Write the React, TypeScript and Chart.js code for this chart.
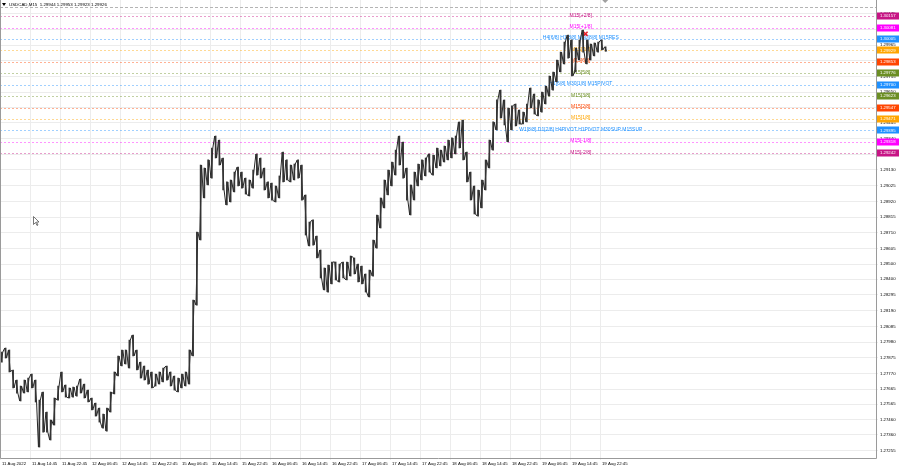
import React, { useEffect, useRef } from 'react';
import { Chart, registerables } from 'chart.js';
Chart.register(...registerables);

const symbolTitle = 'USDCAD,M15  1.29944 1.29953 1.29923 1.29926';

// time axis: bar index (M15 bars) of each label
const timeTickBars = [0, 32, 64, 96, 128, 160, 192, 224, 256, 288, 320, 352, 384, 416, 448, 480, 512, 544, 576, 608, 640];
const timeLabels = ['11 Aug 2022', '11 Aug 14:45', '11 Aug 22:45', '12 Aug 06:45', '12 Aug 14:45', '12 Aug 22:45', '15 Aug 06:45', '15 Aug 14:45', '15 Aug 22:45', '16 Aug 06:45', '16 Aug 14:45', '16 Aug 22:45', '17 Aug 06:45', '17 Aug 14:45', '17 Aug 22:45', '18 Aug 06:45', '18 Aug 14:45', '18 Aug 22:45', '19 Aug 06:45', '19 Aug 14:45', '19 Aug 22:45'];

const priceTicks = [1.27255, 1.2736, 1.2746, 1.27565, 1.27665, 1.2777, 1.27875, 1.2798, 1.28085, 1.2819, 1.28295, 1.284, 1.285, 1.28605, 1.2871, 1.28815, 1.2892, 1.29025, 1.2913, 1.29235, 1.2934, 1.29445, 1.2955, 1.2965, 1.29755, 1.2986, 1.29965, 1.3007, 1.30175];

// hourly (4 x M15) highs and lows
const hourHigh = [
  1.27913, 1.2794, 1.27927, 1.27793, 1.27726, 1.27686, 1.27726, 1.27739, 1.27766, 1.27726,
  1.27592, 1.27646, 1.27512, 1.27459, 1.27606, 1.27686, 1.2778, 1.27693, 1.27673, 1.27679,
  1.27686, 1.27733, 1.27699, 1.27659, 1.27606, 1.27572, 1.27539, 1.27499, 1.27539, 1.27646,
  1.2778, 1.27887, 1.27927, 1.27927, 1.27993, 1.28027, 1.27927, 1.27846, 1.2782, 1.27793,
  1.2778, 1.27766, 1.2778, 1.27806, 1.2782, 1.2778, 1.27753, 1.27739, 1.27766, 1.2778,
  1.27927, 1.28261, 1.28715, 1.29163, 1.29143, 1.29197, 1.29277, 1.29357, 1.2933, 1.2921,
  1.2905, 1.29063, 1.29116, 1.2915, 1.29116, 1.29076, 1.29063, 1.2913, 1.29237, 1.2921,
  1.29143, 1.2905, 1.29043, 1.29023, 1.2909, 1.2925, 1.29197, 1.29163, 1.2917, 1.29197,
  1.29163, 1.28963, 1.28782, 1.28796, 1.28689, 1.28595, 1.28475, 1.28495, 1.28515, 1.28515,
  1.28501, 1.28515, 1.28515, 1.28555, 1.28542, 1.28501, 1.28488, 1.28435, 1.28461, 1.28662,
  1.28829, 1.28943, 1.29063, 1.2913, 1.29183, 1.29263, 1.29357, 1.29317, 1.29143, 1.2903,
  1.29116, 1.2917, 1.29197, 1.2921, 1.29237, 1.2923, 1.29277, 1.29263, 1.2929, 1.2933,
  1.29344, 1.29357, 1.29451, 1.29464, 1.2925, 1.29116, 1.29023, 1.28996, 1.29063, 1.29197,
  1.2933, 1.29451, 1.29598, 1.29664, 1.29598, 1.29544, 1.29558, 1.29571, 1.29531, 1.29517,
  1.29571, 1.29678, 1.29638, 1.29598, 1.29651, 1.29691, 1.29758, 1.29785, 1.29865, 1.29918,
  1.29985, 1.30032, 1.29999, 1.29945, 1.29999, 1.30065, 1.29999, 1.29972, 1.29979, 1.29985,
  1.29999, 1.29953
];
const hourLow = [
  1.27846, 1.27873, 1.2778, 1.27673, 1.27639, 1.27586, 1.27639, 1.27646, 1.27673, 1.27579,
  1.27278, 1.27378, 1.27378, 1.27325, 1.27425, 1.27592, 1.27646, 1.27612, 1.27606, 1.27612,
  1.27619, 1.27639, 1.27606, 1.27579, 1.27526, 1.27485, 1.27445, 1.27405, 1.27385, 1.27512,
  1.27633, 1.27753, 1.2782, 1.27833, 1.27806, 1.27887, 1.27793, 1.27739, 1.27726, 1.27699,
  1.27673, 1.27686, 1.27699, 1.27713, 1.27726, 1.27686, 1.27659, 1.27646, 1.27673, 1.27686,
  1.27699, 1.27887, 1.28227, 1.28662, 1.28943, 1.2903, 1.29076, 1.2921, 1.29163, 1.28996,
  1.28896, 1.28916, 1.28983, 1.29023, 1.29009, 1.28969, 1.28956, 1.29009, 1.29096, 1.29076,
  1.28996, 1.28943, 1.28929, 1.28916, 1.28943, 1.2905, 1.29063, 1.2905, 1.29063, 1.29076,
  1.28929, 1.28695, 1.28622, 1.28628, 1.28542, 1.28408, 1.28328, 1.28314, 1.28368, 1.28395,
  1.28381, 1.28408, 1.28395, 1.28421, 1.28435, 1.28381, 1.28368, 1.28314, 1.28281, 1.28421,
  1.28608, 1.28742, 1.28876, 1.28963, 1.29023, 1.29096, 1.29163, 1.29076, 1.28929, 1.28829,
  1.28929, 1.29023, 1.29063, 1.2909, 1.29116, 1.29096, 1.29143, 1.29157, 1.29183, 1.29197,
  1.2921, 1.29237, 1.29277, 1.29197, 1.2905, 1.28929, 1.28836, 1.28822, 1.28876, 1.28996,
  1.29143, 1.29263, 1.29397, 1.29477, 1.29431, 1.29317, 1.29397, 1.29424, 1.29437, 1.29437,
  1.29451, 1.29544, 1.29504, 1.29491, 1.29517, 1.29571, 1.29624, 1.29664, 1.29718, 1.29785,
  1.29838, 1.29878, 1.29758, 1.29785, 1.29865, 1.29918, 1.29838, 1.29865, 1.29892, 1.29918,
  1.29932, 1.29923
];
const lastClose = 1.29926;

// Murrey levels
const levelPrices = [1.30157, 1.30081, 1.30005, 1.29929, 1.29853, 1.29776, 1.297, 1.29623, 1.29547, 1.29471, 1.29395, 1.29318, 1.29242];
const levelTexts = ['M15[+2/8]', 'M15[+1/8]', 'H4[6/8] H1[8/8] M30[8/8] M15RES', 'M15[7/8]', 'M15[6/8]', 'M15[5/8]', 'H1[6/8] M30[1/8] M15PIVOT', 'M15[3/8]', 'M15[2/8]', 'M15[1/8]', 'W1[8/8] D1[2/8] H4PIVOT H1PIVOT M30SUP M15SUP', 'M15[-1/8]', 'M15[-2/8]'];
const levelColors = ['#c71585', '#ff00ff', '#1e90ff', '#ffa500', '#ff4500', '#6b8e23', '#1e90ff', '#6b8e23', '#ff4500', '#ffa500', '#1e90ff', '#ff00ff', '#c71585'];
const levelLabelBar = 619;

// plain gray horizontal line near the top
const grayLinePrice = 1.3022;

const signalBar = 624;
const signalPrice = 1.3004;
const shiftMarkBar = 645;

// mouse pointer position (bar index, price)
const cursorBar = 35;
const cursorPrice = 1.28823;

const FONT = '"Liberation Sans", Arial, sans-serif';

function zeroPad(s: any) {
  s.paddingLeft = 0;
  s.paddingRight = 0;
  s.paddingTop = 0;
  s.paddingBottom = 0;
}

const overlayPlugin = {
  id: 'mtOverlay',
  beforeDatasetsDraw(chart: any) {
    const { ctx, chartArea, scales } = chart;
    const ys = scales.y;
    const xs = scales.x;
    ctx.save();
    ctx.lineWidth = 1;
    const gy = Math.round(ys.getPixelForValue(grayLinePrice)) + 0.5;
    ctx.strokeStyle = '#b4b4b4';
    ctx.setLineDash([3, 2]);
    ctx.beginPath();
    ctx.moveTo(chartArea.left, gy);
    ctx.lineTo(chartArea.right, gy);
    ctx.stroke();
    levelPrices.forEach((p, i) => {
      const py = Math.round(ys.getPixelForValue(p)) + 0.5;
      ctx.strokeStyle = levelColors[i];
      ctx.globalAlpha = 0.42;
      ctx.setLineDash([2, 2]);
      ctx.beginPath();
      ctx.moveTo(chartArea.left, py);
      ctx.lineTo(chartArea.right, py);
      ctx.stroke();
    });
    ctx.globalAlpha = 1;
    ctx.setLineDash([]);
    ctx.font = '5px ' + FONT;
    ctx.textAlign = 'center';
    ctx.textBaseline = 'middle';
    const lx = xs.getPixelForValue(levelLabelBar);
    levelPrices.forEach((p, i) => {
      const py = ys.getPixelForValue(p) - 1;
      ctx.fillStyle = levelColors[i];
      ctx.fillText(levelTexts[i], lx, py);
    });
    ctx.restore();
  },
  afterDraw(chart: any) {
    const { ctx, chartArea, scales } = chart;
    const ys = scales.y;
    const xs = scales.x;
    ctx.save();
    ctx.strokeStyle = '#9a9a9a';
    ctx.lineWidth = 1;
    ctx.beginPath();
    ctx.moveTo(chartArea.left + 0.5, chartArea.top);
    ctx.lineTo(chartArea.left + 0.5, chartArea.bottom + 0.5);
    ctx.lineTo(chartArea.right + 0.5, chartArea.bottom + 0.5);
    ctx.lineTo(chartArea.right + 0.5, chartArea.top);
    ctx.stroke();
    // chart shift marker
    const sx = xs.getPixelForValue(shiftMarkBar);
    ctx.fillStyle = '#a0a0a0';
    ctx.beginPath();
    ctx.moveTo(sx - 3, chartArea.top);
    ctx.lineTo(sx + 3, chartArea.top);
    ctx.lineTo(sx, chartArea.top + 3);
    ctx.closePath();
    ctx.fill();
    // mouse pointer
    const cx = Math.round(xs.getPixelForValue(cursorBar)) + 0.5;
    const cy = Math.round(ys.getPixelForValue(cursorPrice)) + 0.5;
    ctx.fillStyle = '#ffffff';
    ctx.strokeStyle = '#555';
    ctx.lineWidth = 0.8;
    ctx.beginPath();
    ctx.moveTo(cx, cy);
    ctx.lineTo(cx, cy + 8);
    ctx.lineTo(cx + 2, cy + 6);
    ctx.lineTo(cx + 3.5, cy + 9);
    ctx.lineTo(cx + 4.5, cy + 8.5);
    ctx.lineTo(cx + 3, cy + 5.5);
    ctx.lineTo(cx + 5.5, cy + 5.5);
    ctx.closePath();
    ctx.fill();
    ctx.stroke();
    // axis tick labels
    ctx.fillStyle = '#000';
    ctx.font = '4.3px ' + FONT;
    ctx.textAlign = 'left';
    ctx.textBaseline = 'middle';
    priceTicks.forEach((v) => {
      ctx.fillText(v.toFixed(5), chartArea.right + 4, ys.getPixelForValue(v));
    });
    timeTickBars.forEach((b, k) => {
      ctx.fillText(timeLabels[k], xs.getPixelForValue(b) + 1.5, chartArea.bottom + 5.5);
    });
    // price tags
    levelPrices.forEach((p, i) => {
      const py = ys.getPixelForValue(p);
      ctx.fillStyle = levelColors[i];
      ctx.fillRect(chartArea.right + 1, Math.round(py) - 3.5, 22, 7);
      ctx.fillStyle = '#ffffff';
      ctx.fillText(p.toFixed(5), chartArea.right + 4, py);
    });
    // title
    ctx.fillStyle = '#000';
    ctx.beginPath();
    ctx.moveTo(2, 3);
    ctx.lineTo(6, 3);
    ctx.lineTo(4, 6);
    ctx.closePath();
    ctx.fill();
    ctx.font = '4.4px ' + FONT;
    ctx.fillText(symbolTitle, 9, 4.5);
    ctx.restore();
  }
};

export default function App() {
  const ref = useRef<HTMLCanvasElement | null>(null);
  useEffect(() => {
    document.body.style.margin = '0';
    const canvas = ref.current;
    if (!canvas) return;
    const n = hourHigh.length;
    const zig: { x: number; y: number }[] = [];
    const bars: { x: number; y: number[] }[] = [];
    for (let i = 0; i < n; i++) {
      const mid = (hourHigh[i] + hourLow[i]) / 2;
      const next = i + 1 < n ? (hourHigh[i + 1] + hourLow[i + 1]) / 2 : lastClose;
      const up = next >= mid;
      zig.push({ x: 4 * i + 0.5, y: up ? hourLow[i] : hourHigh[i] });
      zig.push({ x: 4 * i + 2.5, y: up ? hourHigh[i] : hourLow[i] });
      bars.push({ x: 4 * i + 1.5, y: [hourLow[i], hourHigh[i]] });
    }
    const chart = new Chart(canvas, {
      type: 'scatter',
      data: {
        datasets: [
          {
            type: 'bar',
            data: bars,
            backgroundColor: '#333',
            borderWidth: 0,
            barThickness: 1,
            grouped: false,
          } as any,
          {
            data: zig,
            showLine: true,
            borderColor: '#262626',
            borderWidth: 1,
            pointRadius: 0,
            tension: 0,
          } as any,
          {
            data: [{ x: signalBar, y: signalPrice }],
            pointStyle: 'crossRot',
            pointRadius: 3,
            borderColor: '#e8202a',
            borderWidth: 1.6,
            showLine: false,
          } as any,
        ],
      },
      options: {
        responsive: false,
        animation: false,
        devicePixelRatio: 1,
        layout: { padding: 0, autoPadding: false },
        plugins: { legend: { display: false }, tooltip: { enabled: false }, title: { display: false } },
        scales: {
          x: {
            type: 'linear',
            min: -0.5,
            max: 933.9,
            offset: false,
            grid: { color: '#ececec', lineWidth: 1, tickLength: 2, offset: false },
            border: { display: false },
            afterBuildTicks: (s: any) => {
              s.ticks = timeTickBars.map((v) => ({ value: v }));
            },
            afterFit: (s: any) => {
              s.height = 10;
              zeroPad(s);
            },
            ticks: { display: false, autoSkip: false },
          },
          y: {
            type: 'linear',
            position: 'right',
            min: 1.27205,
            max: 1.30266,
            grid: { color: '#ececec', lineWidth: 1, tickLength: 2 },
            border: { display: false },
            afterBuildTicks: (s: any) => {
              s.ticks = priceTicks.map((v) => ({ value: v }));
            },
            afterFit: (s: any) => {
              s.width = 24;
              zeroPad(s);
            },
            ticks: { display: false },
          },
        },
      },
      plugins: [overlayPlugin],
    });
    return () => chart.destroy();
  }, []);
  return (
    <div style={{ width: 900, height: 468, background: '#fff' }}>
      <canvas ref={ref} width={900} height={468} />
    </div>
  );
}
